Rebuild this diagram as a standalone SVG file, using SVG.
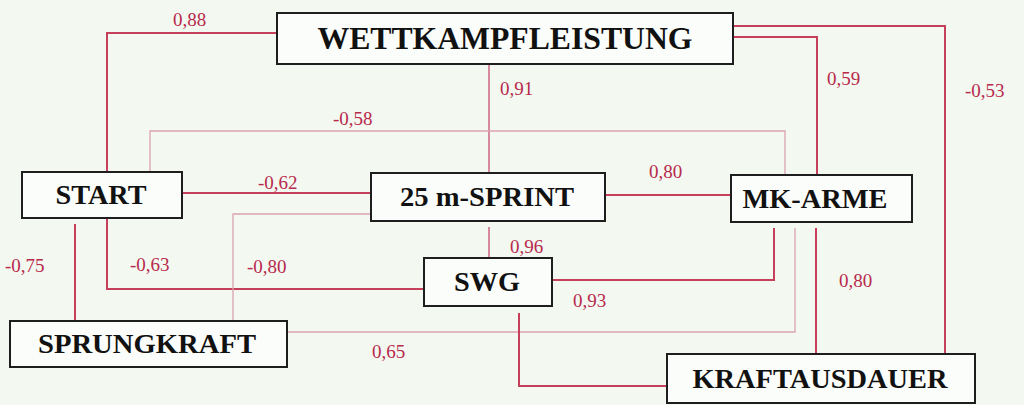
<svg xmlns="http://www.w3.org/2000/svg" width="1024" height="405" viewBox="0 0 1024 405">
<style>
.bg{fill:#f3f8f1}
.box{fill:#fbfdfa;stroke:#1e1e1e;stroke-width:2}
.t{font-family:"Liberation Serif","Times New Roman",serif;font-weight:bold;fill:#111;text-anchor:middle}
.c{fill:none;stroke:#c6405c;stroke-width:2}
.m{fill:none;stroke:#cf6f86;stroke-width:1.6}
.f{fill:none;stroke:#dba3b1;stroke-width:1.3}
.l{font-family:"Liberation Serif","Times New Roman",serif;font-size:19px;fill:#b82a4c}
</style>
<rect class="bg" x="0" y="0" width="1024" height="405"/>
<g id="connectors">
<path class="c" d="M277,33 H107 V172"/>
<path class="m" d="M489,64 V173"/>
<path class="f" d="M150,172 V131 H785 V175"/>
<path class="c" d="M182,193 H371"/>
<path class="c" d="M605,195 H731"/>
<path class="c" d="M75,224 V321"/>
<path class="c" d="M107,218 V289 H424"/>
<path class="f" d="M371,214 H233 V321"/>
<path class="m" d="M489,227 V258"/>
<path class="c" d="M552,280 H774 V228"/>
<path class="f" d="M287,332 H795 V228"/>
<path class="c" d="M816,228 V354"/>
<path class="c" d="M519,313 V386 H667"/>
<path class="c" d="M733,37 H817 V175"/>
<path class="c" d="M733,26 H945 V354"/>
<text class="l" x="173" y="26">0,88</text>
<text class="l" x="500" y="95">0,91</text>
<text class="l" x="333" y="125">-0,58</text>
<text class="l" x="258" y="189">-0,62</text>
<text class="l" x="649" y="178">0,80</text>
<text class="l" x="5" y="272">-0,75</text>
<text class="l" x="130" y="271">-0,63</text>
<text class="l" x="247" y="273">-0,80</text>
<text class="l" x="510" y="253">0,96</text>
<text class="l" x="573" y="307">0,93</text>
<text class="l" x="372" y="358">0,65</text>
<text class="l" x="839" y="287">0,80</text>
<text class="l" x="827" y="85">0,59</text>
<text class="l" x="965" y="97">-0,53</text>
</g>
<g id="wettkampfleistung">
<rect class="box" x="277" y="13" width="456" height="51"/>
<text class="t" x="505" y="49" font-size="31" textLength="375" lengthAdjust="spacingAndGlyphs">WETTKAMPFLEISTUNG</text>
</g>
<g id="start">
<rect class="box" x="22" y="172" width="160" height="46"/>
<text class="t" x="101" y="204" font-size="27" textLength="91" lengthAdjust="spacingAndGlyphs">START</text>
</g>
<g id="sprint">
<rect class="box" x="371" y="173" width="234" height="48"/>
<text class="t" x="487" y="206" font-size="27" textLength="174" lengthAdjust="spacingAndGlyphs">25 m-SPRINT</text>
</g>
<g id="mk-arme">
<rect class="box" x="731" y="175" width="181" height="47"/>
<text class="t" x="815" y="208" font-size="28" textLength="145" lengthAdjust="spacingAndGlyphs">MK-ARME</text>
</g>
<g id="swg">
<rect class="box" x="424" y="258" width="128" height="48"/>
<text class="t" x="487" y="291" font-size="28" textLength="66" lengthAdjust="spacingAndGlyphs">SWG</text>
</g>
<g id="sprungkraft">
<rect class="box" x="10" y="321" width="277" height="46"/>
<text class="t" x="147" y="353" font-size="27" textLength="218" lengthAdjust="spacingAndGlyphs">SPRUNGKRAFT</text>
</g>
<g id="kraftausdauer">
<rect class="box" x="667" y="354" width="308" height="49"/>
<text class="t" x="820" y="388" font-size="27" textLength="255" lengthAdjust="spacingAndGlyphs">KRAFTAUSDAUER</text>
</g>
</svg>
